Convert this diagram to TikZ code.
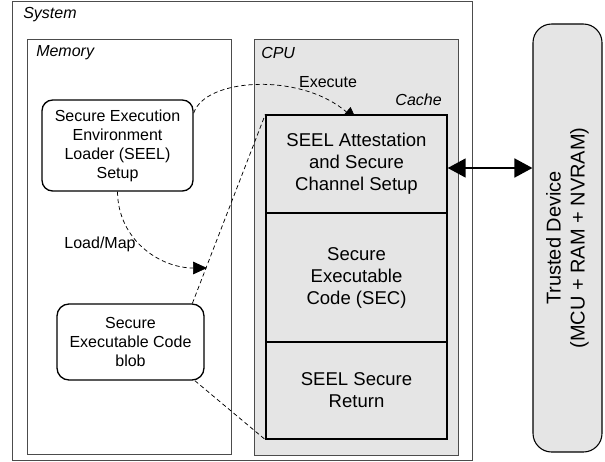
\documentclass[tikz,border=0pt]{standalone}
\usepackage{fontspec}
\setmainfont{Liberation Sans}
\usetikzlibrary{arrows.meta,calc}
\pgfdeclarelayer{back}
\pgfdeclarelayer{mid}
\pgfsetlayers{back,mid,main}
\begin{document}
\begin{tikzpicture}[x=0.75pt,y=-0.75pt,
  frame/.style={draw=black!70,line width=0.6pt,inner sep=0pt,rectangle},
  cpart/.style={draw=black,line width=1pt,fill=gray!20,inner sep=0pt,minimum width=135.75pt,align=center,font=\fontsize{13.9}{16.5}\selectfont},
  rbox/.style={draw=black,line width=1pt,rounded corners=8pt,align=center,inner sep=0pt,font=\fontsize{12}{14.25}\selectfont},
  lbl/.style={font=\itshape\fontsize{12}{14}\selectfont,anchor=west,inner sep=0pt},
  elbl/.style={font=\fontsize{12}{14}\selectfont,inner sep=0pt},
  dflow/.style={dash pattern=on 3.2pt off 2.2pt,line width=0.55pt},
  tip/.style={-{Triangle[length=10.5pt,width=9.5pt]}}
]
\useasboundingbox (0,0) rectangle (605,461);
\begin{pgfonlayer}{back}
  \node[frame,minimum width=345pt,minimum height=344.25pt] (sys) at (242,230.5) {};
  \node[frame,minimum width=153pt,minimum height=311.25pt] (mem) at (129,246.5) {};
  \node[frame,fill=gray!20,minimum width=153pt,minimum height=312pt] (cpu) at (356,247) {};
\end{pgfonlayer}
\node[lbl] (tsys) at (23,15) {System};
\node[lbl] (tmem) at (36,53) {Memory};
\node[lbl] (tcpu) at (261,53) {CPU};
\node[lbl,anchor=east] (tcache) at (442,100) {Cache};

\node[cpart,minimum height=73.5pt] (c1) at (356.5,164) {SEEL Attestation\\and Secure\\Channel Setup};
\node[cpart,minimum height=96.75pt] (c2) at (356.5,277.5) {Secure\\Executable\\Code (SEC)};
\node[cpart,minimum height=72.75pt] (c3) at (356.5,390.5) {SEEL Secure\\Return};

\node[rbox,minimum width=113.25pt,minimum height=68.25pt] (seel) at (117.5,145.5) {Secure Execution\\Environment\\Loader (SEEL)\\Setup};
\node[rbox,minimum width=110.25pt,minimum height=57pt,rounded corners=9pt] (blob) at (130.5,342) {Secure\\Executable Code\\blob};

\node[draw=black,line width=0.8pt,fill=gray!20,rounded corners=14pt,minimum width=51.75pt,minimum height=321pt,inner sep=0pt] (td) at (567.5,238) {};
\node[rotate=90,align=center,font=\fontsize{15}{18}\selectfont,inner sep=0pt] (tdt) at (td.center) {Trusted Device\\(MCU + RAM + NVRAM)};

\coordinate (ex) at (357,121);
\begin{pgfonlayer}{mid}
  \draw[dflow,tip] (seel.23) .. controls (205,78) and (300,72) .. (ex);
\end{pgfonlayer}
\node[elbl] (lex) at (328,82) {Execute};

\coordinate (lm) at (207,268);
\draw[dflow,tip] (seel.south) .. controls (118,240) and (160,268) .. (lm);
\node[elbl] (llm) at (100,244) {Load/Map};

\draw[dflow] (blob.32) -- (c1.north west);
\draw[dflow] (blob.-31) -- (c3.south west);

\coordinate (ay) at (0,168);
\draw[line width=2pt,{Triangle[length=13.5pt,width=14pt]}-{Triangle[length=13.5pt,width=14pt]}] (c1.east |- ay) -- (td.west |- ay);
\end{tikzpicture}
\end{document}
